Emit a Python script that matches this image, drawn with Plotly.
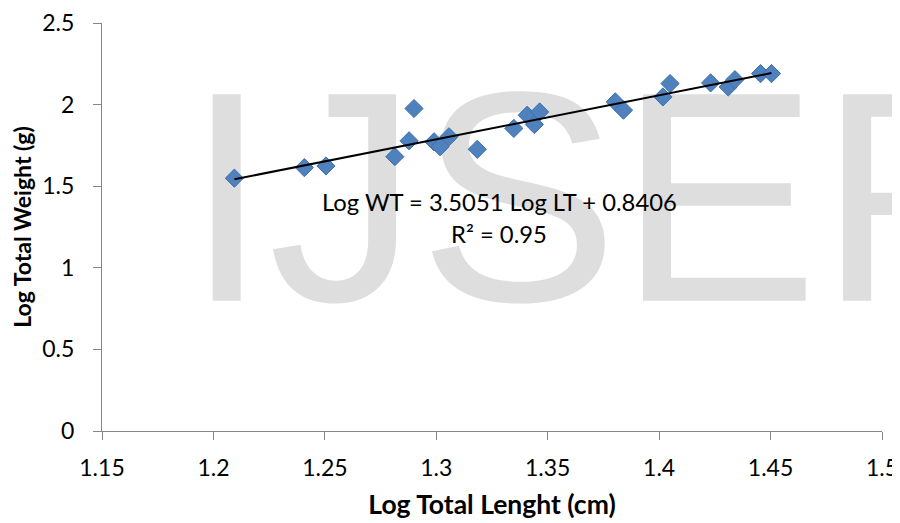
import numpy as np
import plotly.graph_objects as go

# Data
log_total_length = [1.2094, 1.2408, 1.2505, 1.2814, 1.2878, 1.2900, 1.2990, 1.3017,
                    1.3057, 1.3184, 1.3348, 1.3408, 1.3440, 1.3464, 1.3803, 1.3840,
                    1.4017, 1.4049, 1.4231, 1.4310, 1.4340, 1.4455, 1.4504]
log_total_weight = [1.549, 1.614, 1.624, 1.681, 1.778, 1.976, 1.772, 1.742,
                    1.803, 1.726, 1.854, 1.935, 1.878, 1.955, 2.017, 1.966,
                    2.047, 2.129, 2.133, 2.108, 2.153, 2.190, 2.190]
x_ticks = [1.15, 1.2, 1.25, 1.3, 1.35, 1.4, 1.45, 1.5]
y_ticks = [0, 0.5, 1, 1.5, 2, 2.5]
equation_line = "Log WT = 3.5051 Log LT + 0.8406"
r2_line = "R² = 0.95"
watermark_text = "IJSER"

# Linear least-squares trendline over the data span
slope, intercept = np.polyfit(log_total_length, log_total_weight, 1)
trend_x = [min(log_total_length), max(log_total_length)]
trend_y = [slope * v + intercept for v in trend_x]

FONT = "Lato"
AXIS_COLOR = "#868686"

fig = go.Figure()
fig.add_trace(go.Scatter(
    x=log_total_length, y=log_total_weight, mode="markers",
    marker=dict(symbol="diamond", size=14, color="#4F81BD",
                line=dict(color="#3D6FAD", width=1)),
    showlegend=False, cliponaxis=False,
))
fig.add_trace(go.Scatter(
    x=trend_x, y=trend_y, mode="lines",
    line=dict(color="black", width=2), showlegend=False,
))

# Watermark behind the data
wm_cx, wm_cy = 0.6514, 0.643
fig.add_shape(type="rect", xref="paper", yref="paper",
              x0=wm_cx - 0.399, x1=wm_cx + 0.399, y0=wm_cy - 0.2, y1=wm_cy + 0.2,
              line=dict(width=0), fillcolor="rgba(0,0,0,0)", layer="below",
              label=dict(text=watermark_text, textposition="middle center",
                         font=dict(family="Liberation Sans", size=300, color="#DEDEDE")))

fig.add_annotation(xref="paper", yref="paper", x=0.509, y=0.561,
                   text=equation_line, showarrow=False,
                   font=dict(family=FONT, size=23.8, color="black"),
                   xanchor="center", yanchor="middle")
fig.add_annotation(xref="paper", yref="paper", x=0.509, y=0.483,
                   text=r2_line, showarrow=False,
                   font=dict(family=FONT, size=23.8, color="black"),
                   xanchor="center", yanchor="middle")

fig.update_layout(
    width=892, height=515,
    margin=dict(l=94, r=18, t=15, b=92, autoexpand=False),
    paper_bgcolor="white", plot_bgcolor="white",
    font=dict(family=FONT, size=23, color="black"),
)
fig.update_xaxes(
    range=[1.15, 1.5], tickvals=x_ticks, ticktext=[f"{v:g}" for v in x_ticks],
    showgrid=False, zeroline=False, showline=True, linecolor=AXIS_COLOR, linewidth=1,
    ticks="outside", ticklen=8, tickcolor=AXIS_COLOR, automargin=False,
    tickfont=dict(family=FONT, size=23), ticklabelstandoff=8,
    title=dict(text="<b>Log Total Lenght (cm)</b>", font=dict(family=FONT, size=26.5), standoff=15),
)
fig.update_yaxes(
    range=[0, 2.5], tickvals=y_ticks, ticktext=[f"{v:g}" for v in y_ticks],
    showgrid=False, zeroline=False, showline=True, linecolor=AXIS_COLOR, linewidth=1,
    ticks="outside", ticklen=8, tickcolor=AXIS_COLOR, automargin=False,
    tickfont=dict(family=FONT, size=23), ticklabelstandoff=14,
    title=dict(text="<b>Log Total Weight (g)</b>", font=dict(family=FONT, size=23), standoff=11),
)

fig.write_html("out.html")
